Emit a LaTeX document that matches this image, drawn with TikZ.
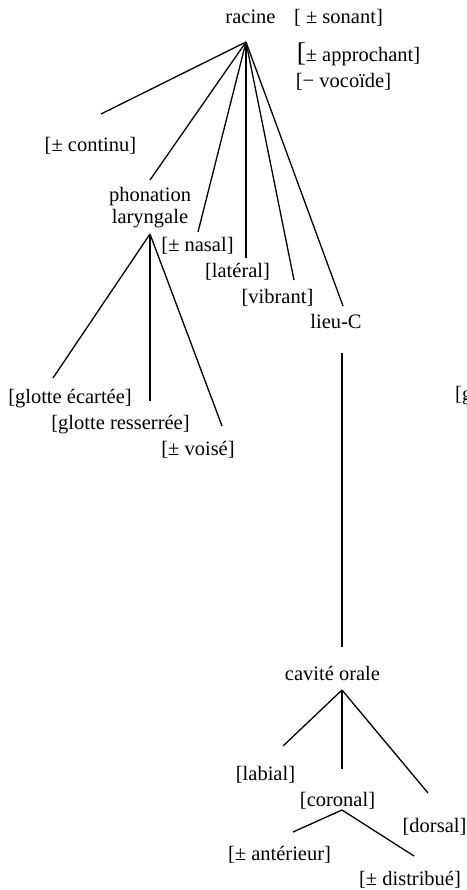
\documentclass[tikz,border=0pt]{standalone}
\usepackage{fontspec}
\setmainfont{Liberation Serif}
\begin{document}
\begin{tikzpicture}[x=1pt, y=-1pt, lab/.style = {inner sep=0pt, anchor=base, font=\fontsize{20.5}{22}\selectfont}, br/.style = {line width=1.3pt}]
			\useasboundingbox (0,0) rectangle (466,890);
			\node[lab] (racine) at (250.5,24) {racine};
			\node[lab] (sonant) at (338.5,24) {[ ± sonant]};
			\node[lab] (approchant) at (358.5,62) {{\fontsize{27}{27}\selectfont[}± approchant]};
			\node[lab] (vocoide) at (343.5,88) {[− vocoïde]};
			\node[lab] (continu) at (90.5,152) {[± continu]};
			\node[lab, anchor=center, align=center] (phonation) at (150,208) {phonation\\laryngale};
			\node[lab] (nasal) at (197.5,252) {[± nasal]};
			\node[lab] (lateral) at (237.5,277) {[latéral]};
			\node[lab] (vibrant) at (277.5,303) {[vibrant]};
			\node[lab] (lieuC) at (336,328) {lieu-C};
			\node[lab] (ecartee) at (70,403) {[glotte écartée]};
			\node[lab] (resserree) at (120.5,429) {[glotte resserrée]};
			\node[lab] (voise) at (198,455) {[± voisé]};
			\node[lab, anchor=base west] (g) at (455,400) {[g};
			\node[lab] (cavite) at (332.5,680) {cavité orale};
			\node[lab] (labial) at (265.5,780) {[labial]};
			\node[lab] (coronal) at (337.5,806) {[coronal]};
			\node[lab] (dorsal) at (434.5,832) {[dorsal]};
			\node[lab] (anterieur) at (279.5,860) {[± antérieur]};
			\node[lab] (distribue) at (410,885) {[± distribué]};

			\coordinate (rac) at (246,42);
			\coordinate (rac1) at (101,114);
			\coordinate (rac2) at (150,180);
			\coordinate (rac3) at (198,232);
			\coordinate (rac4) at (246,258);
			\coordinate (rac5) at (294,280);
			\coordinate (rac6) at (343,306);
			\coordinate (lar) at (150,234);
			\coordinate (lar1) at (53,378);
			\coordinate (lar2) at (150,401);
			\coordinate (lar3) at (222,426);
			\coordinate (lieu) at (342,353);
			\coordinate (cav0) at (342,647);
			\coordinate (cav) at (342,690);
			\coordinate (cav1) at (283,746);
			\coordinate (cav2) at (342,769);
			\coordinate (cav3) at (428,793);
			\coordinate (cor) at (342,810);
			\coordinate (cor1) at (293,832);
			\coordinate (cor2) at (414,856);

			\draw[br] (rac) to (rac1);
			\draw[br] (rac) to (rac2);
			\draw[br] (rac) to (rac3);
			\draw[br] (rac) to (rac4);
			\draw[br] (rac) to (rac5);
			\draw[br] (rac) to (rac6);
			\draw[br] (lar) to (lar1);
			\draw[br] (lar) to (lar2);
			\draw[br] (lar) to (lar3);
			\draw[br] (lieu) to (cav0);
			\draw[br] (cav) to (cav1);
			\draw[br] (cav) to (cav2);
			\draw[br] (cav) to (cav3);
			\draw[br] (cor) to (cor1);
			\draw[br] (cor) to (cor2);
		\end{tikzpicture}
\end{document}
